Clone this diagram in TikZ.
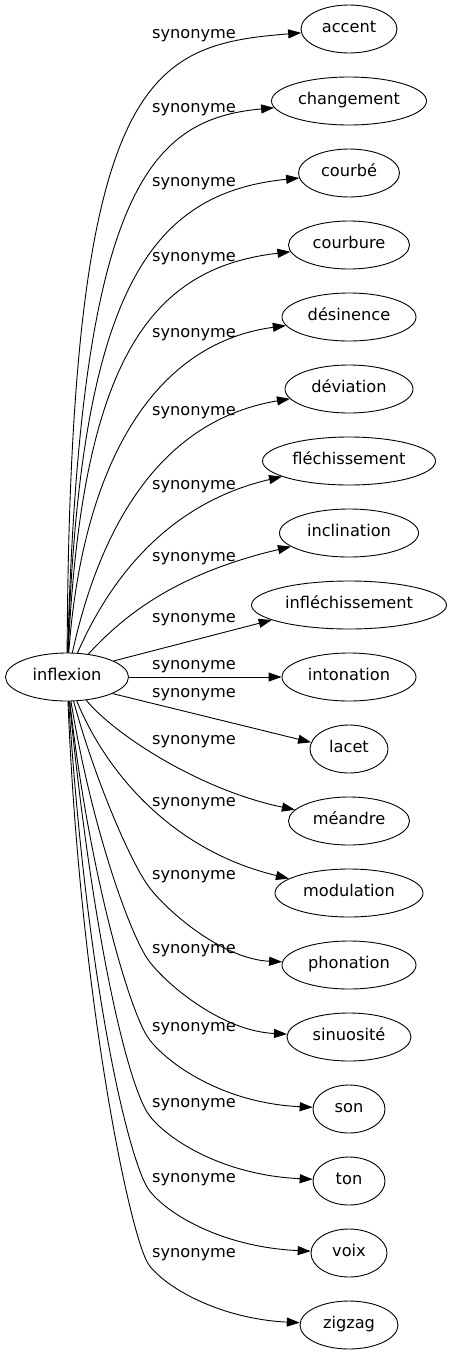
\documentclass[tikz,border=0pt]{standalone}
\usepackage{fontspec}
\setmainfont{DejaVu Sans}
\usetikzlibrary{arrows.meta,shapes.geometric}
\begin{document}
\begin{tikzpicture}[x=1pt,y=-1pt,
  every node/.style={font=\fontsize{16.2}{19}\selectfont, text height=0.8em, text depth=0.1em, inner sep=0pt},
  term/.style={draw, ellipse, minimum height=48pt, line width=0.9pt},
  lbl/.style={},
  syn/.style={draw, line width=0.9pt, -{Triangle[length=13pt,width=9pt]}},
]
\fill[white] (0,0) rectangle (451,1355);
\useasboundingbox (0,0) rectangle (451,1355);

\node[term, minimum width=123pt] (inflexion) at (67,677) {inflexion};

\node[term, minimum width=96pt]  (accent)          at (349,29)   {accent};
\node[term, minimum width=155pt] (changement)      at (349,101)  {changement};
\node[term, minimum width=101pt] (courbe)          at (349,173)  {courbé};
\node[term, minimum width=121pt] (courbure)        at (349,245)  {courbure};
\node[term, minimum width=134pt] (desinence)       at (349,317)  {désinence};
\node[term, minimum width=128pt] (deviation)       at (349,389)  {déviation};
\node[term, minimum width=173pt] (flechissement)   at (349,461)  {fléchissement};
\node[term, minimum width=139pt] (inclination)     at (349,533)  {inclination};
\node[term, minimum width=195pt] (inflechissement) at (349,605)  {infléchissement};
\node[term, minimum width=134pt] (intonation)      at (349,677)  {intonation};
\node[term, minimum width=78pt]  (lacet)           at (349,749)  {lacet};
\node[term, minimum width=121pt] (meandre)         at (349,821)  {méandre};
\node[term, minimum width=148pt] (modulation)      at (349,893)  {modulation};
\node[term, minimum width=134pt] (phonation)       at (349,965)  {phonation};
\node[term, minimum width=124pt] (sinuosite)       at (349,1037) {sinuosité};
\node[term, minimum width=72pt]  (son)             at (349,1109) {son};
\node[term, minimum width=72pt]  (ton)             at (349,1181) {ton};
\node[term, minimum width=76pt]  (voix)            at (349,1253) {voix};
\node[term, minimum width=98pt]  (zigzag)          at (349,1325) {zigzag};

\foreach \yl [count=\i] in {35,109,183,258,334,412,486,558,619,666,694,741,803,876,950,1028,1104,1179,1254}
  \node[lbl] (lab\i) at (194,\yl) {synonyme};

\draw[syn] (inflexion) .. controls (70,72) and (150,45) .. (accent);
\draw[syn] (inflexion) .. controls (80,190) and (150,119) .. (changement);
\draw[syn] (inflexion) .. controls (80,290) and (150,193) .. (courbe);
\draw[syn] (inflexion) .. controls (82,360) and (150,268) .. (courbure);
\draw[syn] (inflexion) .. controls (82,470) and (150,344) .. (desinence);
\draw[syn] (inflexion) .. controls (96,545) and (150,422) .. (deviation);
\draw[syn] (inflexion) .. controls (105,590) and (160,505) .. (flechissement);
\draw[syn] (inflexion) .. controls (120,620) and (170,575) .. (inclination);
\draw[syn] (inflexion.19) -- (inflechissement.191);
\draw[syn] (inflexion) -- (intonation);
\draw[syn] (inflexion.-20) -- (lacet.170);
\draw[syn] (inflexion) .. controls (115,735) and (200,790) .. (meandre);
\draw[syn] (inflexion) .. controls (105,770) and (170,850) .. (modulation);
\draw[syn] (inflexion) .. controls (95,780) and (131,863) .. (149,887) .. controls (167,911) and (222,959) .. (phonation);
\draw[syn] (inflexion) .. controls (92,830) and (131,937) .. (149,961) .. controls (167,985) and (222,1031) .. (sinuosite);
\draw[syn] (inflexion) .. controls (90,880) and (131,1015) .. (149,1039) .. controls (167,1063) and (222,1103) .. (son);
\draw[syn] (inflexion) .. controls (95,960) and (131,1091) .. (149,1115) .. controls (167,1139) and (222,1175) .. (ton);
\draw[syn] (inflexion) .. controls (88,1000) and (131,1166) .. (149,1190) .. controls (167,1214) and (222,1247) .. (voix);
\draw[syn] (inflexion) .. controls (80,1000) and (131,1241) .. (149,1265) .. controls (167,1289) and (222,1319) .. (zigzag);
\end{tikzpicture}
\end{document}
